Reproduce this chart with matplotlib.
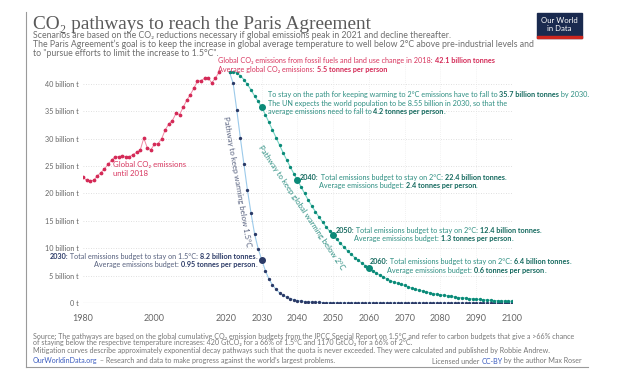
"""
CO2 pathways to reach the Paris Agreement (Our World in Data style)
"""
import numpy as np
import matplotlib
matplotlib.use('Agg')
import matplotlib.pyplot as plt
from matplotlib.patches import Rectangle
from matplotlib.lines import Line2D

plt.rcParams['font.family'] = ['Lato', 'DejaVu Sans']

# ---- data (billion tonnes CO2) ----
hist_years = list(range(1980, 2019))
hist_vals = [23.0, 22.4, 22.3, 22.4, 23.2, 23.8, 24.5, 25.3, 26.1, 26.7,
             26.7, 26.9, 26.7, 26.7, 27.1, 27.5, 27.9, 30.1, 28.3, 28.0,
             29.0, 29.1, 30.0, 31.6, 32.7, 33.3, 34.6, 34.4, 35.7, 37.0,
             38.0, 39.2, 40.5, 40.6, 41.0, 41.1, 40.2, 41.0, 42.1]

path_years = list(range(2021, 2101))
path_15 = [42.1, 40.1, 35.3, 30.2, 25.4, 20.6, 16.4, 12.6, 9.9, 7.9,
           5.9, 4.4, 3.3, 2.5, 1.85, 1.4, 1.05, 0.8, 0.6, 0.45,
           0.35, 0.27, 0.21, 0.16, 0.12, 0.1, 0.08, 0.06, 0.05, 0.04,
           0.03, 0.03, 0.02, 0.02, 0.02, 0.02, 0.01, 0.01, 0.01, 0.01,
           0.01, 0.01, 0.01, 0.01, 0.01, 0.01, 0.01, 0.01, 0.01, 0.01,
           0.0, 0.0, 0.0, 0.0, 0.0, 0.0, 0.0, 0.0, 0.0, 0.0,
           0.0, 0.0, 0.0, 0.0, 0.0, 0.0, 0.0, 0.0, 0.0, 0.0,
           0.0, 0.0, 0.0, 0.0, 0.0, 0.0, 0.0, 0.0, 0.0, 0.0]
path_2 = [42.1, 42.2, 42.0, 41.5, 40.8, 39.9, 38.9, 37.8, 36.8, 35.7,
          34.4, 33.0, 31.6, 30.2, 28.8, 27.4, 26.1, 24.8, 23.6, 22.4,
          21.2, 20.0, 18.8, 17.7, 16.7, 15.7, 14.8, 13.9, 13.1, 12.4,
          11.6, 10.9, 10.2, 9.5, 8.9, 8.3, 7.8, 7.3, 6.8, 6.4,
          5.9, 5.5, 5.1, 4.8, 4.4, 4.1, 3.8, 3.6, 3.4, 3.2,
          2.9, 2.7, 2.5, 2.3, 2.2, 2.0, 1.9, 1.7, 1.6, 1.5,
          1.4, 1.3, 1.2, 1.1, 1.0, 0.95, 0.9, 0.8, 0.75, 0.7,
          0.65, 0.6, 0.55, 0.5, 0.45, 0.42, 0.4, 0.37, 0.35, 0.33]

highlight_15 = [2030]
highlight_2 = [2030, 2040, 2050, 2060]

x_ticks = [1980, 2000, 2020, 2030, 2040, 2050, 2060, 2070, 2080, 2090, 2100]
y_ticks = [0, 5, 10, 15, 20, 25, 30, 35, 40]
y_labels = ['0 t'] + [f'{v} billion t' for v in y_ticks[1:]]

# colours
RED, RED_LINE, RED_TXT = '#d42a57', '#f08aa5', '#d8365f'
NAVY, NAVY_LINE, NAVY_TXT = '#2b3a67', '#9ccaea', '#56607e'
GREEN, GREEN_LINE, GREEN_TXT, GREEN_B = '#0b8a78', '#74d3c3', '#2e8f82', '#14695e'
GREY = '#666666'

W, H = 625, 379


def fx(px):
    return px / W


def fy(py):
    return 1 - py / H


def rich_text(host, x, y, parts, size, ha='left', ann_ax=None, **kw):
    """draw a line made of several (text, colour, weight) parts"""
    ann_ax = host if ann_ax is None else ann_ax
    seq = parts if ha == 'left' else parts[::-1]
    prev = None
    for txt, col, wt in seq:
        if prev is None:
            prev = host.text(x, y, txt, color=col, fontweight=wt, fontsize=size,
                             ha=ha, va='center', clip_on=False, **kw)
        else:
            prev = ann_ax.annotate(txt, xy=(1, 0) if ha == 'left' else (0, 0),
                                   xycoords=prev, color=col, fontweight=wt,
                                   fontsize=size, ha=ha, va='bottom',
                                   annotation_clip=False)
    return prev


fig = plt.figure(figsize=(6.25, 3.79), dpi=100)
ax = fig.add_axes([fx(83), fy(303), fx(512) - fx(83), fy(62) - fy(303)])
ax.set_xlim(1980, 2100)
ax.set_ylim(0, 44)

# grid
for v in y_ticks[1:]:
    ax.axhline(v, color='#d5d5d5', lw=0.6, ls=(0, (1, 2)), zorder=0)
for t in x_ticks[3:]:
    ax.axvline(t, color='#e6e6e6', lw=0.5, ls=(0, (1, 2)), zorder=0)
ax.axhline(0, color='#bdbdbd', lw=0.8, zorder=1)

for s in ax.spines.values():
    s.set_visible(False)
ax.set_xticks(x_ticks)
ax.set_xticklabels([str(t) for t in x_ticks], fontsize=6.5, color=GREY)
ax.set_yticks(y_ticks)
ax.set_yticklabels(y_labels, fontsize=5.2, color=GREY)
ax.tick_params(length=0, pad=3)
ax.tick_params(axis='x', pad=8)

# series
ax.plot(hist_years, hist_vals, color=RED_LINE, lw=0.7, zorder=2)
ax.plot(hist_years, hist_vals, 'o', color=RED, ms=1.7, zorder=3)

ax.plot(path_years, path_15, color=NAVY_LINE, lw=0.8, zorder=2)
ax.plot(path_years, path_15, 'o', color=NAVY, ms=1.4, zorder=3)
ax.plot(path_years, path_2, color=GREEN_LINE, lw=0.8, zorder=2)
ax.plot(path_years, path_2, 'o', color=GREEN, ms=1.4, zorder=3)

ax.plot(highlight_15, [path_15[path_years.index(y)] for y in highlight_15],
        'o', color=NAVY, ms=4, zorder=4)
ax.plot(highlight_2, [path_2[path_years.index(y)] for y in highlight_2],
        'o', color=GREEN, ms=4, zorder=4)

# annotations
fs = 5.2
rich_text(ax, 2017.8, 44.2, [('Global CO\u2082 emissions from fossil fuels and land use change in 2018: ', RED_TXT, 'normal'),
                             ('42.1 billion tonnes', RED, 'bold')], fs)
rich_text(ax, 2017.8, 42.7, [('Average global CO\u2082 emissions: ', RED_TXT, 'normal'),
                             ('5.5 tonnes per person', RED, 'bold')], fs)
ax.text(1988.5, 24.45, 'Global CO\u2082 emissions\nuntil 2018', color=RED_TXT,
        fontsize=5.6, ha='left', va='center', linespacing=1.3)

rich_text(ax, 2028.7, 8.5, [('2030:', NAVY, 'bold'),
                            (' Total emissions budget to stay on 1.5°C: ', NAVY_TXT, 'normal'),
                            ('8.2 billion tonnes', NAVY, 'bold'), ('.', NAVY_TXT, 'normal')], fs, ha='right')
rich_text(ax, 2028.7, 6.95, [('Average emissions budget: ', NAVY_TXT, 'normal'),
                             ('0.95 tonnes per person', NAVY, 'bold'), ('.', NAVY_TXT, 'normal')], fs, ha='right')

rich_text(ax, 2031.7, 38.0, [('To stay on the path for keeping warming to 2°C emissions have to fall to ', GREEN_TXT, 'normal'),
                             ('35.7 billion tonnes', GREEN_B, 'bold'), (' by 2030.', GREEN_TXT, 'normal')], fs)
rich_text(ax, 2031.7, 36.5, [('The UN expects the world population to be 8.55 billion in 2030, so that the', GREEN_TXT, 'normal')], fs)
rich_text(ax, 2031.7, 34.9, [('average emissions need to fall to ', GREEN_TXT, 'normal'),
                             ('4.2 tonnes per person', GREEN_B, 'bold'), ('.', GREEN_TXT, 'normal')], fs)

budgets = [(2040, 22.4, 2.4, 2040.7, 22.9, 2046.0, 21.4),
           (2050, 12.4, 1.3, 2050.6, 13.2, 2055.9, 11.8),
           (2060, 6.4, 0.6, 2060.1, 7.5, 2065.1, 6.0)]
for yr, tot, pp, x1, y1, x2, y2 in budgets:
    rich_text(ax, x1, y1, [(f'{yr}:', GREEN_B, 'bold'),
                           (' Total emissions budget to stay on 2°C: ', GREEN_TXT, 'normal'),
                           (f'{tot} billion tonnes', GREEN_B, 'bold'), ('.', GREEN_TXT, 'normal')], fs)
    rich_text(ax, x2, y2, [('Average emissions budget: ', GREEN_TXT, 'normal'),
                           (f'{pp} tonnes per person', GREEN_B, 'bold'), ('.', GREEN_TXT, 'normal')], fs)

ax.text(2023.0, 22.1, 'Pathway to keep warming below 1.5°C', color=NAVY_TXT,
        fontsize=5.6, rotation=-80, ha='center', va='center', rotation_mode='anchor')
ax.text(2041.2, 17.4, 'Pathway to keep global warming below 2°C', color=GREEN_TXT,
        fontsize=5.6, rotation=-56, ha='center', va='center', rotation_mode='anchor')

# header
fig.text(fx(33), fy(29), 'CO\u2082 pathways to reach the Paris Agreement',
         family=['Liberation Serif', 'DejaVu Serif'], fontsize=13.9, color='#5a5a5a', va='baseline')
subs = ['Scenarios are based on the CO\u2082 reductions necessary if global emissions peak in 2021 and decline thereafter.',
        'The Paris Agreement\u2019s goal is to keep the increase in global average temperature to well below 2°C above pre-industrial levels and',
        'to "pursue efforts to limit the increase to 1.5°C".']
for i, s in enumerate(subs):
    fig.text(fx(33), fy(36 + 8.5 * i), s, fontsize=6.3, color='#6e6e6e', va='center')

# logo
fig.patches.append(Rectangle((fx(537), fy(38)), fx(582) - fx(537), fy(13) - fy(38),
                             transform=fig.transFigure, color='#1a2a4f', zorder=5))
fig.patches.append(Rectangle((fx(537), fy(38)), fx(582) - fx(537), fy(36) - fy(38),
                             transform=fig.transFigure, color='#ce261e', zorder=6))
fig.text(fx(559.5), fy(24.5), 'Our World\nin Data', color='white', fontsize=5.6,
         ha='center', va='center', linespacing=1.05, zorder=7)

# footer
foot = ['Source: The pathways are based on the global cumulative CO\u2082 emission budgets from the IPCC Special Report on 1.5°C and refer to carbon budgets that give a >66% chance',
        'of staying below the respective temperature increases: 420 GtCO\u2082 for a 66% of 1.5°C and 1170 GtCO\u2082 for a 66% of 2°C.',
        'Mitigation curves describe approximately exponential decay pathways such that the quota is never exceeded. They were calculated and published by Robbie Andrew.']
for i, s in enumerate(foot):
    fig.text(fx(33), fy(336 + 7 * i), s, fontsize=5.15, color='#777777', va='center')
rich_text(fig, fx(33), fy(361), [('OurWorldinData.org', '#3a5bbf', 'normal'),
                                 (' \u2013 Research and data to make progress against the world\u2019s largest problems.', '#777777', 'normal')],
          5.15, ann_ax=ax)
rich_text(fig, fx(582), fy(361), [('Licensed under ', '#777777', 'normal'), ('CC-BY', '#3a5bbf', 'normal'),
                                  (' by the author Max Roser', '#777777', 'normal')],
          5.15, ha='right', ann_ax=ax)

# frame lines
fig.add_artist(Line2D([fx(26), fx(26)], [fy(12), fy(367)], color='#9a9a9a', lw=0.8))
fig.add_artist(Line2D([fx(26), fx(588)], [fy(367), fy(367)], color='#9a9a9a', lw=0.8))

fig.savefig('out.png', dpi=100)
plt.close(fig)
